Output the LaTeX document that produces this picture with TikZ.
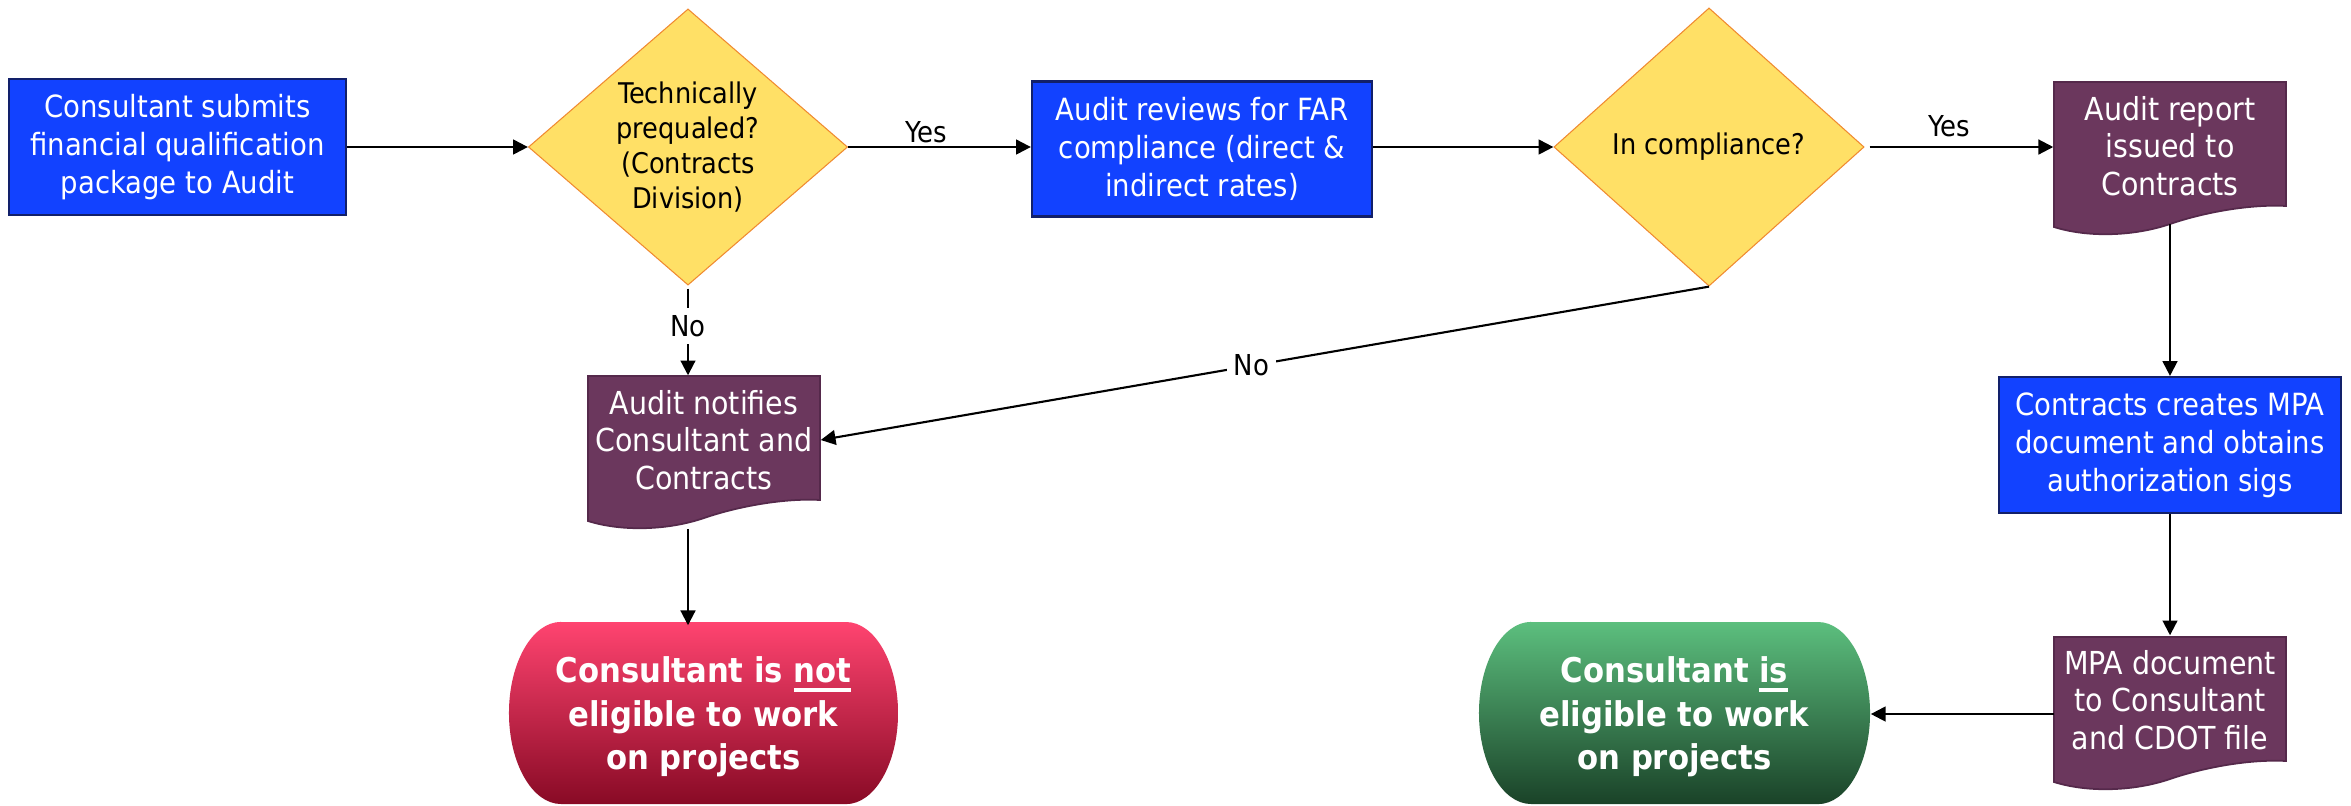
\documentclass[tikz,border=0pt]{standalone}
\usepackage{fontspec}
\setmainfont{DejaVu Sans Condensed}
\usetikzlibrary{arrows.meta,shapes.geometric}

\definecolor{boxblue}{HTML}{1242FF}
\definecolor{boxedge}{HTML}{12206A}
\definecolor{diafill}{HTML}{FFE066}
\definecolor{diaedge}{HTML}{F08A30}
\definecolor{docfill}{HTML}{6B375D}
\definecolor{docedge}{HTML}{55294B}
\definecolor{redtop}{HTML}{FF4470}
\definecolor{redmid}{HTML}{D0083A}
\definecolor{redbot}{HTML}{880A25}
\definecolor{greentop}{HTML}{5CBF7E}
\definecolor{greenmid}{HTML}{2F7A4A}
\definecolor{greenbot}{HTML}{1A4228}

\newcommand\myul[1]{\setbox0\hbox{#1}\rlap{\vrule width\wd0 height -1.6pt depth 2.7pt}\box0}

\tikzset{
  procbox/.style={rectangle, fill=boxblue, draw=boxedge, line width=0.6pt, text=white,
    align=center, font=\fontsize{8.7}{10.8}\selectfont, inner sep=0pt},
  decision/.style={diamond, fill=diafill, draw=diaedge, line width=0.3pt, align=center,
    font=\fontsize{8.1}{10}\selectfont, inner sep=0pt, aspect=1.156},
  doctext/.style={rectangle, align=center, text=white, font=\fontsize{9}{10.7}\selectfont,
    inner sep=0pt, minimum width=2.32cm, minimum height=1.28cm},
  docshape/.style={fill=docfill, draw=docedge, line width=0.5pt},
  termtext/.style={rectangle, align=center, text=white, font=\bfseries\fontsize{9.7}{12.4}\selectfont,
    inner sep=0pt, minimum height=1.82cm},
  flow/.style={-{Triangle[length=4.2pt,width=4.2pt]}, line width=0.6pt, black},
  lbl/.style={font=\fontsize{8.2}{10}\selectfont, inner sep=1pt},
  lblw/.style={lbl, fill=white, inner sep=2pt},
}

% document shape: #1 left x, #2 top y (px), width 232
\newcommand\docpath[2]{%
  \path[docshape] (#1,#2) -- ({#1+232},#2) -- ({#1+232},{#2+124})
    .. controls ({#1+197},{#2+122}) and ({#1+151},{#2+130}) .. ({#1+116},{#2+142})
    .. controls ({#1+81},{#2+154}) and ({#1+35},{#2+156}) .. (#1,{#2+145}) -- cycle;}

\begin{document}
\begin{tikzpicture}[x=0.01cm, y=-0.01cm]
\useasboundingbox (0,0) rectangle (2351,805);
\fill[white] (0,0) rectangle (2351,805);

% terminal shapes
\path[top color=redtop, middle color=redmid, bottom color=redbot]
  (561,622) -- (846,622) arc[start angle=90, end angle=-90, x radius=0.52cm, y radius=0.91cm]
  -- (561,804) arc[start angle=270, end angle=90, x radius=0.52cm, y radius=0.91cm] -- cycle;
\path[top color=greentop, middle color=greenmid, bottom color=greenbot]
  (1531,622) -- (1818,622) arc[start angle=90, end angle=-90, x radius=0.52cm, y radius=0.91cm]
  -- (1531,804) arc[start angle=270, end angle=90, x radius=0.52cm, y radius=0.91cm] -- cycle;

% document shapes
\docpath{2054}{82}
\docpath{588}{376}
\docpath{2054}{637}

% nodes
\node[procbox, minimum width=3.37cm, minimum height=1.36cm] (b1) at (177.5,147)
  {Consultant submits\\financial qualification\\package to Audit};
\node[decision, minimum width=3.19cm, minimum height=2.76cm] (d1) at (688,147)
  {Technically\\prequaled?\\(Contracts\\Division)};
\node[procbox, minimum width=3.40cm, minimum height=1.35cm] (b2) at (1202,149)
  {Audit reviews for FAR\\compliance (direct \&\\indirect rates)};
\node[decision, minimum width=3.10cm, minimum height=2.78cm] (d2) at (1709,147)
  {In compliance?};
\node[doctext] (doc1) at (2170,146) {Audit report\\issued to\\Contracts};
\node[procbox, minimum width=3.42cm, minimum height=1.36cm] (b3) at (2170,445)
  {Contracts creates MPA\\document and obtains\\authorization sigs};
\node[doctext] (doc3) at (2170,700) {MPA document\\to Consultant\\and CDOT file};
\node[doctext] (doc2) at (704,440) {Audit notifies\\Consultant and\\Contracts};
\node[termtext, minimum width=3.89cm] (red) at (703.5,717)
  {Consultant is \myul{not}\\eligible to work\\on projects};
\node[termtext, minimum width=3.91cm] (green) at (1674.5,717)
  {Consultant \myul{is}\\eligible to work\\on projects};

\coordinate (doc1b) at (2170,224);
\coordinate (doc2b) at (688,529);
\coordinate (doc3w) at (2054,714);

% connectors
\draw[flow] (b1.east) -- (b1.east -| d1.west);
\draw[flow] (d1.east) -- node[lbl, pos=0.43, above=0pt] {Yes} (d1.east -| b2.west);
\draw[flow] (b2.east |- d2.west) -- (d2.west);
\draw[flow, shorten <=0.05cm] (d2.east) -- node[lbl, pos=0.45, above=1.5pt] {Yes} (d2.east -| doc1.west);
\draw[flow] (doc1b) -- (doc1b |- b3.north);
\draw[flow] (b3.south) -- (b3.south |- doc3.north);
\draw[flow] (doc3w) -- (doc3w -| green.east);
\draw[flow, shorten <=0.03cm] (d1.south) -- node[lblw, pos=0.45] {No} (d1.south |- doc2.north);
\draw[flow] (d2.south) -- node[lblw, pos=0.515] {No} (doc2.east);
\draw[flow] (doc2b) -- (doc2b |- red.north);
\end{tikzpicture}
\end{document}
